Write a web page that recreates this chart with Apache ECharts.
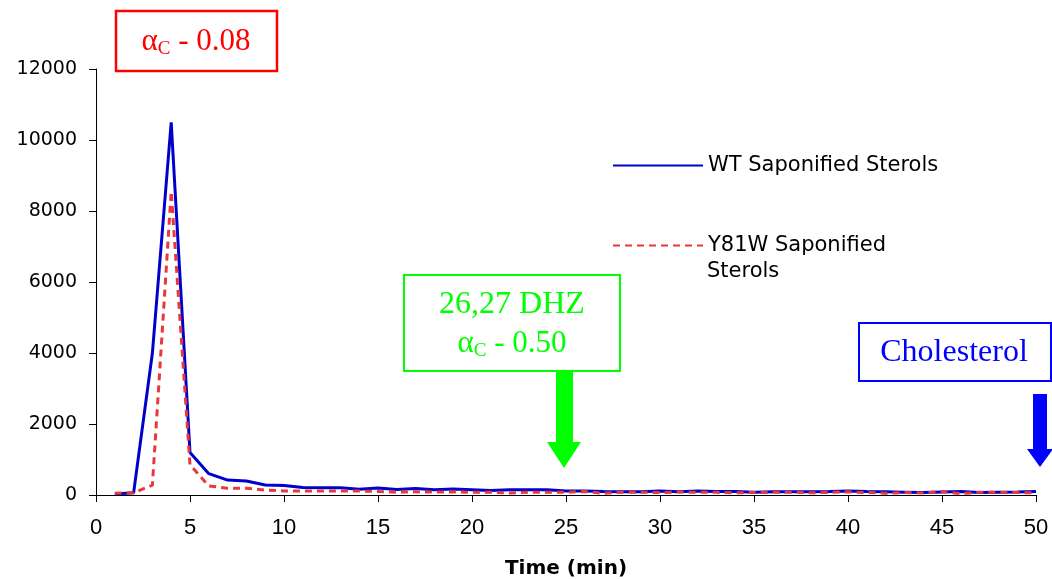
<!DOCTYPE html>
<html>
<head>
<meta charset="utf-8">
<script src="https://cdn.jsdelivr.net/npm/echarts@6/dist/echarts.min.js"></script>
<style>html,body{margin:0;padding:0;background:#fff;}#c{width:1052px;height:579px;}</style>
</head>
<body>
<div id="c"></div>
<script>
const times = [1,2,3,4,5,6,7,8,9,10,11,12,13,14,15,16,17,18,19,20,21,22,23,24,25,26,27,28,29,30,31,32,33,34,35,36,37,38,39,40,41,42,43,44,45,46,47,48,49,50];
const wtSterols = [30,60,4000,10500,1200,600,420,395,280,270,210,205,205,160,195,155,180,150,170,150,125,150,150,150,115,110,100,95,90,110,95,110,100,100,80,95,90,95,100,115,100,90,80,70,85,100,70,80,85,100];
const y81wSterols = [50,60,280,8550,850,255,190,190,140,115,110,110,115,110,100,80,90,80,90,75,75,55,75,75,75,100,45,80,80,70,85,75,75,60,70,75,80,60,75,90,70,50,70,55,100,40,75,75,70,60];
const xTicks = {min:0, max:50, interval:5};
const yTicks = {min:0, max:12000, interval:2000};
const seriesNames = ['WT Saponified Sterols', 'Y81W Saponified Sterols'];

const chart = echarts.init(document.getElementById('c'), null, {renderer:'canvas'});
const pair = (vals) => times.map((t,i) => [t, vals[i]]);
const serif = '"Liberation Serif","Times New Roman",serif';

chart.setOption({
  animation:false,
  backgroundColor:'#fff',
  grid:{left:96, right:16, top:69, bottom:84, containLabel:false, outerBoundsMode:'none'},
  xAxis:{
    type:'value', min:xTicks.min, max:xTicks.max, interval:xTicks.interval,
    name:'Time (min)', nameLocation:'middle', nameGap:64,
    nameTextStyle:{fontFamily:'DejaVu Sans', fontWeight:'bold', fontSize:20, color:'#000'},
    axisLine:{show:true, onZero:false, lineStyle:{color:'#000', width:1}},
    axisTick:{show:true, inside:false, length:7, lineStyle:{color:'#000'}},
    axisLabel:{margin:22, fontFamily:'"Liberation Sans",Arial', fontSize:22, color:'#000'},
    splitLine:{show:false}
  },
  yAxis:{
    type:'value', min:yTicks.min, max:yTicks.max, interval:yTicks.interval,
    axisLine:{show:true, lineStyle:{color:'#000', width:1}},
    axisTick:{show:true, inside:false, length:7, lineStyle:{color:'#000'}},
    axisLabel:{margin:19, fontFamily:'DejaVu Sans', fontSize:19, color:'#000', formatter:(v)=>String(v)},
    splitLine:{show:false}
  },
  legend:[
    {data:[seriesNames[0]], left:612, top:155, padding:0, itemWidth:90, itemHeight:14,
     itemStyle:{opacity:0, borderWidth:0},
     textStyle:{fontFamily:'DejaVu Sans', fontSize:21, color:'#000'}},
    {data:[seriesNames[1]], left:612, top:235, padding:0, itemWidth:90, itemHeight:14,
     itemStyle:{opacity:0, borderWidth:0},
     formatter:()=> 'Y81W Saponified',
     textStyle:{fontFamily:'DejaVu Sans', fontSize:21, color:'#000'}}
  ],
  series:[
    {name:seriesNames[0], type:'line', data:pair(wtSterols), symbol:'none', showSymbol:false,
     lineStyle:{color:'#0000cc', width:3}, itemStyle:{color:'#0000cc'}, z:3},
    {name:seriesNames[1], type:'line', data:pair(y81wSterols), symbol:'none', showSymbol:false,
     lineStyle:{color:'#e8383d', width:3, type:[7,5]}, itemStyle:{color:'#e8383d'}, z:4}
  ],
  graphic:[
    {type:'text', left:707, top:261, style:{text:'Sterols', font:'21px "DejaVu Sans"', fill:'#000'}},
    {type:'rect', shape:{x:116, y:11, width:161, height:60}, style:{fill:'#fff', stroke:'#ff0000', lineWidth:2.5}},
    {type:'text', x:196, y:42, style:{text:'{a|α}{s|C}{a| - 0.08}', align:'center', verticalAlign:'middle',
      rich:{a:{fontFamily:serif, fontSize:31, fill:'#ff0000', color:'#ff0000'}, s:{fontFamily:serif, fontSize:19, fill:'#ff0000', color:'#ff0000', padding:[14,0,0,0]}}}},
    {type:'rect', shape:{x:404, y:275, width:216, height:96}, style:{fill:'#fff', stroke:'#00ff00', lineWidth:2}},
    {type:'text', x:512, y:305, style:{text:'26,27 DHZ', align:'center', verticalAlign:'middle', font:'32px "Liberation Serif"', fill:'#00ff00'}},
    {type:'text', x:512, y:344, style:{text:'{a|α}{s|C}{a| - 0.50}', align:'center', verticalAlign:'middle',
      rich:{a:{fontFamily:serif, fontSize:31, fill:'#00ff00', color:'#00ff00'}, s:{fontFamily:serif, fontSize:19, fill:'#00ff00', color:'#00ff00', padding:[14,0,0,0]}}}},
    {type:'polygon', shape:{points:[[556,370],[573,370],[573,442],[581,442],[564,468],[547,442],[556,442]]}, style:{fill:'#00ff00'}},
    {type:'rect', shape:{x:859, y:323, width:192, height:58}, style:{fill:'#fff', stroke:'#0000ff', lineWidth:2}},
    {type:'text', x:954, y:353, style:{text:'Cholesterol', align:'center', verticalAlign:'middle', font:'32px "Liberation Serif"', fill:'#0000ff'}},
    {type:'polygon', shape:{points:[[1033,394],[1047,394],[1047,449],[1053,449],[1040,467],[1027,449],[1033,449]]}, style:{fill:'#0000ff'}}
  ]
});
</script>
</body>
</html>
